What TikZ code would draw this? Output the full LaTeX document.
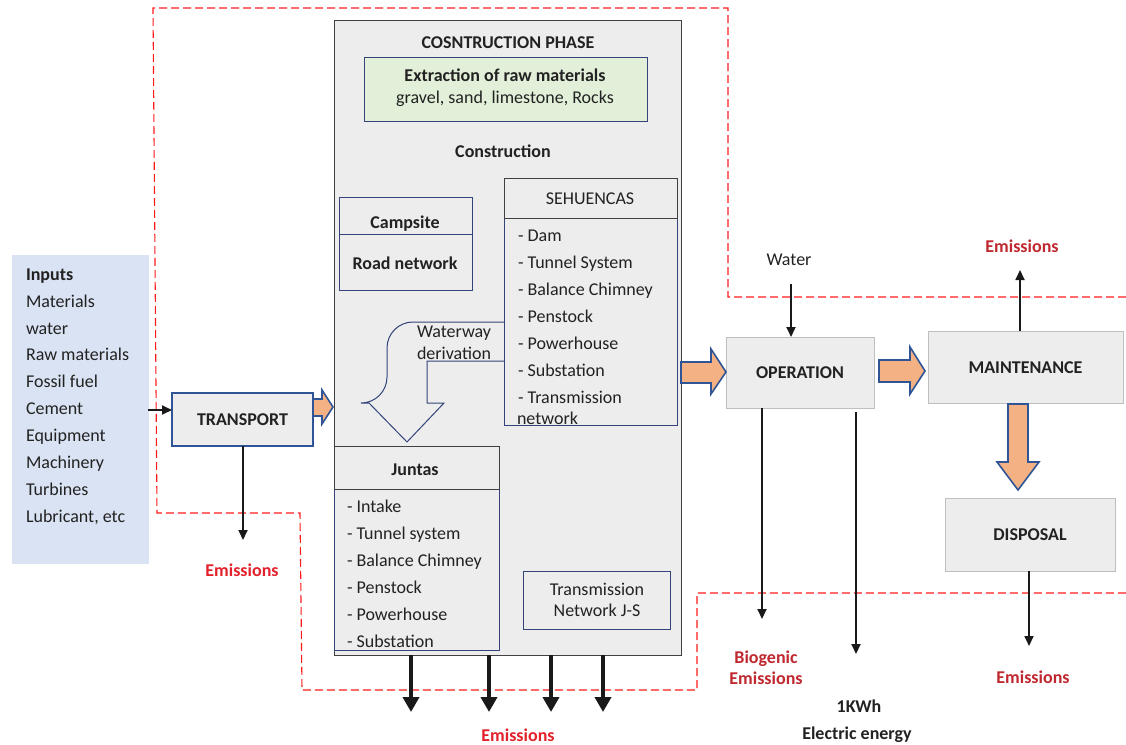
\documentclass[tikz,border=0pt]{standalone}
\usepackage{fontspec}
\setmainfont{Carlito}
\usetikzlibrary{arrows.meta}
\definecolor{boxgray}{HTML}{EDEDED}
\definecolor{opborder}{HTML}{BFBFBF}
\definecolor{tblue}{HTML}{2F5597}
\definecolor{orangef}{HTML}{F4B183}
\definecolor{inblue}{HTML}{DAE3F3}
\definecolor{greenf}{HTML}{E2F0D9}
\definecolor{navy}{HTML}{34447A}
\definecolor{dgray}{HTML}{404040}
\definecolor{txt}{HTML}{222222}
\definecolor{redA}{HTML}{E3212B}
\definecolor{redB}{HTML}{C0282F}
\definecolor{dash}{HTML}{FF1A1A}
\begin{document}
\begin{tikzpicture}[x=1pt,y=-1pt,
  every node/.style={font=\fontsize{18}{21}\selectfont, text=txt, inner sep=0pt, outer sep=0pt},
  lbl/.style={text height=12.5pt, text depth=0pt},
  bfont/.style={font=\fontsize{18}{21}\selectfont\bfseries},
  bf/.style={lbl, bfont},
  emA/.style={bf, text=redA},
  emB/.style={bf, text=redB},
  graybox/.style={draw=opborder, line width=1pt, fill=boxgray, anchor=north west, lbl, bfont},
  navybox/.style={draw=navy, line width=1pt, anchor=north west},
  headbox/.style={draw=dgray, line width=1pt, anchor=north west},
  redline/.style={draw=dash, line width=1.1pt, dash pattern=on 8pt off 4pt},
  arr/.style={draw=black!90, line width=1.8pt, -{Triangle[width=9pt,length=10pt]}},
  bigarr/.style={draw=black!90, line width=4.5pt, -{Triangle[width=16pt,length=15pt]}},
  blockarr/.style={fill=orangef, draw=tblue, line width=1.6pt, line join=miter}
]
\useasboundingbox (0,0) rectangle (1126,744);

% red dashed boundaries
\draw[redline] (1126,297) -- (728,297) -- (728,8) -- (153,8) -- (157,513) -- (300,513) -- (302,690) -- (697,690) -- (697,593) -- (1126,593);

% Inputs
\node[fill=inblue, minimum width=137pt, minimum height=309pt, anchor=north west] (inputs) at (12,255) {};
\node[bf, anchor=west] (inhead) at (26,274) {Inputs};
\foreach \t [count=\i] in {Materials, water, Raw materials, Fossil fuel, Cement, Equipment, Machinery, Turbines, {Lubricant, etc}}
  \node[lbl, anchor=west] (in\i) at (26,274+26.9*\i) {\t};

% Transport
\node[draw=tblue, line width=2pt, fill=boxgray, minimum width=141pt, minimum height=53pt, anchor=north west, lbl, bfont] (trans) at (172,393) {TRANSPORT};
\coordinate (inarr) at (148,410);
\draw[arr] (inarr) -- (trans.west |- inarr);
\coordinate (te) at (243,540);
\draw[arr] (trans.south -| te) -- (te);
\node[emA] (em1) at (242,570) {Emissions};

% Construction phase
\node[draw=dgray, line width=1pt, fill=boxgray, minimum width=347pt, minimum height=635pt, anchor=north west] (cons) at (334,20) {};
\node[bf] (constitle) at (508,42) {COSNTRUCTION PHASE};
\node[draw=navy, line width=1pt, fill=greenf, minimum width=283pt, minimum height=64pt, anchor=north west] (extr) at (364,57) {};
\node[bf] (extr1) at (505,75) {Extraction of raw materials};
\node[lbl] (extr2) at (505,97) {gravel, sand, limestone, Rocks};
\node[bf] (constr) at (503,151) {Construction};

% Campsite / Road network
\node[navybox, minimum width=133pt, minimum height=37pt] (camp) at (339,197) {};
\node[navybox, minimum width=133pt, minimum height=56pt] (road) at (339,234) {};
\node[bf] (campt) at (405,222) {Campsite};
\node[bf] (roadt) at (405,263) {Road network};

% SEHUENCAS
\node[navybox, minimum width=173pt, minimum height=207pt] (sehb) at (504,218) {};
\node[headbox, minimum width=173pt, minimum height=40pt] (sehh) at (504,178) {};
\node[lbl] (seht) at (590,198) {SEHUENCAS};
\foreach \t [count=\i] in {- Dam, - Tunnel System, - Balance Chimney, - Penstock, - Powerhouse, - Substation, - Transmission}
  \node[lbl, anchor=west] (s\i) at (518,235+27*\i-27) {\t};
\node[lbl, anchor=west] (s8) at (517,418) {network};

% Waterway derivation outline arrow
\draw[draw=navy, line width=1pt, rounded corners=26pt] (sehb.west |- 0,322) -- (387,322) -- (387,403) [sharp corners] -- (369,403) -- (407,442) -- (444,403) -- (427,403) -- (427,361) -- (sehb.west |- 0,361);
\node[lbl, anchor=west] (ww1) at (417,331) {Waterway};
\node[lbl, anchor=west] (ww2) at (417,353) {derivation};

% Juntas
\node[navybox, minimum width=165pt, minimum height=161pt] (junb) at (334,489) {};
\node[headbox, minimum width=165pt, minimum height=43pt] (junh) at (334,446) {};
\node[bf] (junt) at (415,469) {Juntas};
\foreach \t [count=\i] in {- Intake, - Tunnel system, - Balance Chimney, - Penstock, - Powerhouse, - Substation}
  \node[lbl, anchor=west] (j\i) at (347,506+27*\i-27) {\t};

% Transmission network J-S
\node[navybox, minimum width=147pt, minimum height=58pt] (tnet) at (523,571) {};
\node[lbl] (tnet1) at (597,589) {Transmission};
\node[lbl] (tnet2) at (597,610) {Network J-S};

% construction emissions
\foreach \x [count=\i] in {411,489,551,603} {
  \coordinate (ce\i) at (\x,712);
  \draw[bigarr] (cons.south -| ce\i) -- (ce\i);
}
\node[emA] (em2) at (518,735) {Emissions};

% Operation
\node[graybox, minimum width=148pt, minimum height=71pt] (op) at (726,337) {OPERATION};
\node[lbl] (water) at (789,259) {Water};
\coordinate (wa) at (791,284);
\draw[arr] (wa) -- (op.north -| wa);
\coordinate (bio) at (762,619);
\draw[arr] (op.south -| bio) -- (bio);
\node[emB] (bio1) at (766,657) {Biogenic};
\node[emB] (bio2) at (766,678) {Emissions};
\coordinate (kwtop) at (856,412);
\coordinate (kw) at (856,654);
\draw[arr] (kwtop) -- (kw);
\node[bf] (kw1) at (859,706) {1KWh};
\node[bf] (kw2) at (857,733) {Electric energy};

% Maintenance
\node[graybox, minimum width=195pt, minimum height=72pt] (maint) at (928,331) {MAINTENANCE};
\coordinate (me) at (1020,270);
\draw[arr] (maint.north -| me) -- (me);
\node[emB] (em3) at (1022,246) {Emissions};

% Disposal
\node[graybox, minimum width=170pt, minimum height=73pt] (disp) at (945,498) {DISPOSAL};
\coordinate (de) at (1029,646);
\draw[arr] (disp.south -| de) -- (de);
\node[emB] (em4) at (1033,677) {Emissions};

% orange block arrows
\draw[blockarr] (313,399) -- (322,399) -- (322,390) -- (333,407) -- (322,424) -- (322,416) -- (313,416) -- cycle;
\draw[blockarr] (681,362) -- (711,362) -- (711,349) -- (726,372) -- (711,394) -- (711,383) -- (681,383) -- cycle;
\draw[blockarr] (879,360) -- (910,360) -- (910,347) -- (925,371) -- (910,394) -- (910,382) -- (879,382) -- cycle;
\draw[blockarr] (1008,404) -- (1008,462) -- (997,462) -- (1018,490) -- (1039,462) -- (1028,462) -- (1028,404) -- cycle;
\end{tikzpicture}
\end{document}
